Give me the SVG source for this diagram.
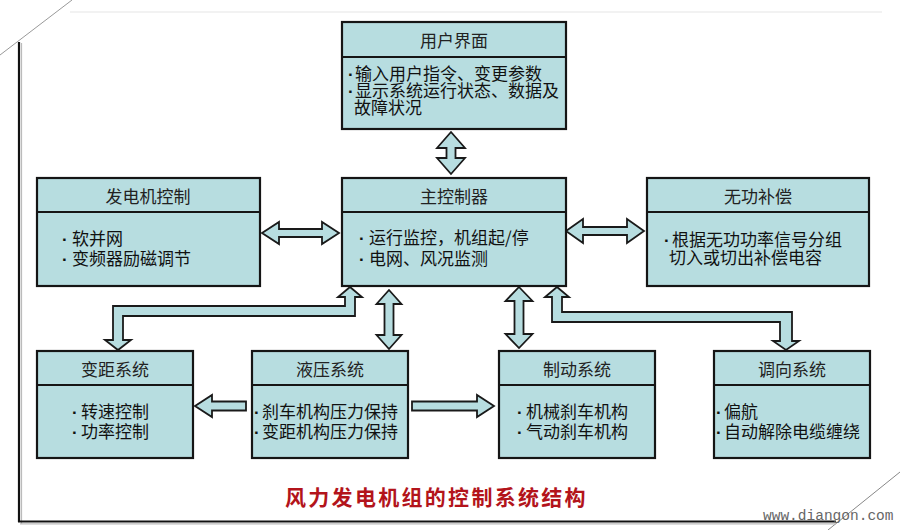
<svg xmlns="http://www.w3.org/2000/svg" width="900" height="530" viewBox="0 0 900 530">
<style>
.box{fill:#B7DDE0;stroke:#151515;stroke-width:2.2}
.div{stroke:#151515;stroke-width:2}
.arr{fill:#B7DDE0;stroke:#1a1a1a;stroke-width:1.8;stroke-linejoin:miter}
.hd{font-family:"Noto Sans CJK SC","Noto Sans",sans-serif;font-size:17px;fill:#222;text-anchor:middle}
.bd{font-family:"Noto Sans CJK SC","Noto Sans",sans-serif;font-size:17px;fill:#111}
.dot{font-family:"Liberation Sans",sans-serif;font-weight:bold}
</style>
<rect width="900" height="530" fill="#fff"/>
<g id="frame">
<line x1="70" y1="12" x2="882" y2="12" stroke="#eee" stroke-width="1.5"/>
<line x1="0" y1="55" x2="72" y2="0" stroke="#999" stroke-width="1"/>
<line x1="828" y1="530" x2="900" y2="472" stroke="#888" stroke-width="1"/>
<line x1="21.5" y1="43" x2="21.5" y2="524" stroke="#bbb" stroke-width="1.2"/>
<line x1="19" y1="42" x2="19" y2="522" stroke="#111" stroke-width="2.2"/>
<line x1="20" y1="523.8" x2="836" y2="523.8" stroke="#bbb" stroke-width="1.2"/>
<line x1="18" y1="521.5" x2="836" y2="521.5" stroke="#111" stroke-width="2.2"/>
</g>
<g id="connectors">
<polygon class="arr" points="451,132 465,148 455.5,148 455.5,158 465,158 451,174 437,158 446.5,158 446.5,148 437,148"/>
<polygon class="arr" points="262,233 279,222 279,229 322,229 322,222 339,233 322,244 322,237 279,237 279,244"/>
<polygon class="arr" points="566,231 583,219 583,227 627,227 627,219 644,231 627,243 627,235 583,235 583,243"/>
<polygon class="arr" points="389,290 401.5,304 393.5,304 393.5,335 401.5,335 389,349 376.5,335 384.5,335 384.5,304 376.5,304"/>
<polygon class="arr" points="519,287 532.5,301 523.5,301 523.5,334 532.5,334 519,348 505.5,334 514.5,334 514.5,301 505.5,301"/>
<polygon class="arr" points="350,287 362,297 355,297 355,316 123,316 123,340 131,340 118,350 105,340 113,340 113,306 345,306 345,297 338,297"/>
<polygon class="arr" points="557,287 569,297 562,297 562,312 792,312 792,341 799,341 786,350 773,341 780,341 780,322 552,322 552,297 545,297"/>
<polygon class="arr" points="195,406 212,395 212,401.5 246,401.5 246,410.5 212,410.5 212,417"/>
<polygon class="arr" points="494,406 477,395 477,401.5 412,401.5 412,410.5 477,410.5 477,417"/>
</g>
<g id="user-interface">
<rect class="box" x="342" y="22" width="224" height="107"/>
<line class="div" x1="342" y1="57" x2="566" y2="57"/>
<text class="hd" x="454" y="47">用户界面</text>
<text class="bd" y="80"><tspan class="dot" x="348">·</tspan><tspan x="355">输入用户指令、变更参数</tspan></text>
<text class="bd" y="97"><tspan class="dot" x="348">·</tspan><tspan x="355">显示系统运行状态、数据及</tspan></text>
<text class="bd" x="354" y="114">故障状况</text>
</g>
<g id="generator-control">
<rect class="box" x="37" y="178" width="223" height="108"/>
<line class="div" x1="37" y1="212" x2="260" y2="212"/>
<text class="hd" x="148" y="203">发电机控制</text>
<text class="bd" y="245"><tspan class="dot" x="62">·</tspan><tspan x="72">软并网</tspan></text>
<text class="bd" y="265"><tspan class="dot" x="62">·</tspan><tspan x="72">变频器励磁调节</tspan></text>
</g>
<g id="main-controller">
<rect class="box" x="342" y="178" width="224" height="108"/>
<line class="div" x1="342" y1="212" x2="566" y2="212"/>
<text class="hd" x="454" y="203">主控制器</text>
<text class="bd" y="244"><tspan class="dot" x="359">·</tspan><tspan x="369">运行监控，机组起/停</tspan></text>
<text class="bd" y="265"><tspan class="dot" x="359">·</tspan><tspan x="369">电网、风况监测</tspan></text>
</g>
<g id="reactive-compensation">
<rect class="box" x="647" y="178" width="222" height="108"/>
<line class="div" x1="647" y1="212" x2="869" y2="212"/>
<text class="hd" x="758" y="203">无功补偿</text>
<text class="bd" y="246"><tspan class="dot" x="664">·</tspan><tspan x="672">根据无功功率信号分组</tspan></text>
<text class="bd" x="669" y="264">切入或切出补偿电容</text>
</g>
<g id="pitch-system">
<rect class="box" x="37" y="351" width="156" height="107"/>
<line class="div" x1="37" y1="385" x2="193" y2="385"/>
<text class="hd" x="115" y="376">变距系统</text>
<text class="bd" y="418"><tspan class="dot" x="72">·</tspan><tspan x="81">转速控制</tspan></text>
<text class="bd" y="438"><tspan class="dot" x="72">·</tspan><tspan x="81">功率控制</tspan></text>
</g>
<g id="hydraulic-system">
<rect class="box" x="252" y="351" width="156" height="107"/>
<line class="div" x1="252" y1="385" x2="408" y2="385"/>
<text class="hd" x="330" y="376">液压系统</text>
<text class="bd" y="418"><tspan class="dot" x="254">·</tspan><tspan x="262">刹车机构压力保持</tspan></text>
<text class="bd" y="438"><tspan class="dot" x="254">·</tspan><tspan x="262">变距机构压力保持</tspan></text>
</g>
<g id="brake-system">
<rect class="box" x="499" y="351" width="156" height="107"/>
<line class="div" x1="499" y1="385" x2="655" y2="385"/>
<text class="hd" x="577" y="376">制动系统</text>
<text class="bd" y="418"><tspan class="dot" x="517">·</tspan><tspan x="526">机械刹车机构</tspan></text>
<text class="bd" y="438"><tspan class="dot" x="517">·</tspan><tspan x="526">气动刹车机构</tspan></text>
</g>
<g id="yaw-system">
<rect class="box" x="714" y="351" width="156" height="107"/>
<line class="div" x1="714" y1="385" x2="870" y2="385"/>
<text class="hd" x="792" y="376">调向系统</text>
<text class="bd" y="418"><tspan class="dot" x="716">·</tspan><tspan x="724">偏航</tspan></text>
<text class="bd" y="438"><tspan class="dot" x="716">·</tspan><tspan x="724">自动解除电缆缠绕</tspan></text>
</g>
<g id="title">
<text x="285" y="505" font-family="'Noto Sans CJK SC',sans-serif" font-size="21" font-weight="bold" letter-spacing="2.3" fill="#B3141B">风力发电机组的控制系统结构</text>
<text x="763" y="520" font-family="'Liberation Mono',monospace" font-size="14.5" fill="#666">www.diangon.com</text>
</g>
</svg>
